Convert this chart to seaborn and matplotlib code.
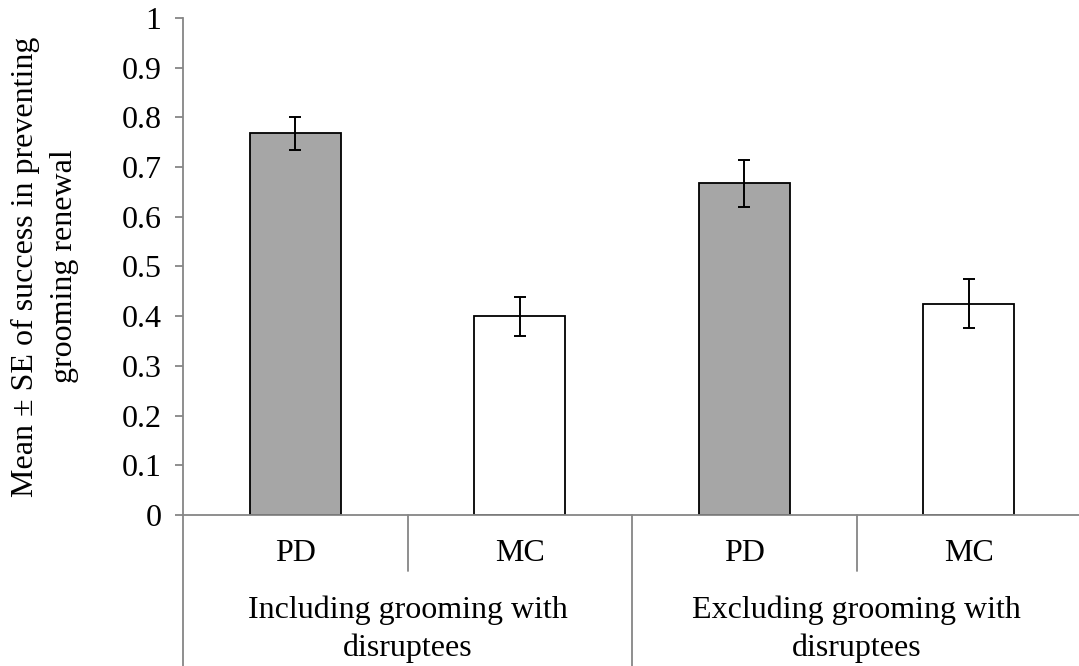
import matplotlib
matplotlib.use("Agg")
import matplotlib.pyplot as plt
import matplotlib.transforms as mtransforms
import seaborn as sns
import pandas as pd

# ---- data ----
conditions = ["PD", "MC", "PD", "MC"]
groups = ["Including grooming with\ndisruptees", "Excluding grooming with\ndisruptees"]
means = [0.768, 0.400, 0.667, 0.425]
se = [0.033, 0.039, 0.048, 0.049]
bar_colors = ["#A6A6A6", "#FFFFFF", "#A6A6A6", "#FFFFFF"]
yticks = [0, 0.1, 0.2, 0.3, 0.4, 0.5, 0.6, 0.7, 0.8, 0.9, 1.0]
ytick_labels = ["0", "0.1", "0.2", "0.3", "0.4", "0.5", "0.6", "0.7", "0.8", "0.9", "1"]
ylabel = "Mean \u00b1 SE of success in preventing\ngrooming renewal"

sns.set_style("white")
plt.rcParams["font.family"] = ["Liberation Serif", "DejaVu Serif"]
plt.rcParams["text.color"] = "black"
axis_gray = "#868686"
FS = 23

df = pd.DataFrame({"slot": [f"s{i}" for i in range(len(conditions))], "mean": means})

fig = plt.figure(figsize=(10.79, 6.66), dpi=100)
ax = fig.add_axes([0.1696, 0.2267, 0.8323, 0.7463])

sns.barplot(data=df, x="slot", y="mean", hue="slot", palette=bar_colors, legend=False,
            width=0.405, edgecolor="black", linewidth=1.3, errorbar=None, ax=ax, saturation=1)
ax.errorbar(range(len(means)), means, yerr=se, fmt="none", ecolor="black",
            elinewidth=1.4, capsize=4.4, capthick=1.4, zorder=5)

ax.set_xlim(-0.5, 3.5)
ax.set_ylim(0, 1)
ax.set_yticks(yticks)
ax.set_yticklabels(ytick_labels, fontsize=FS)
ax.set_xticks([])
ax.set_xlabel("")
ax.set_ylabel("")
for s in ["top", "right"]:
    ax.spines[s].set_visible(False)
for s in ["left", "bottom"]:
    ax.spines[s].set_color(axis_gray)
    ax.spines[s].set_linewidth(1.3)
ax.tick_params(axis="y", direction="out", length=6, width=1.3, color=axis_gray,
               labelcolor="black", pad=9.5, left=True)

# hierarchical category axis
trans = mtransforms.blended_transform_factory(ax.transData, ax.transAxes)
for x in [0.5, 2.5]:
    ax.plot([x, x], [0, -0.113], transform=trans, color=axis_gray, lw=1.3, clip_on=False)
for x in [-0.5, 1.5, 3.5]:
    ax.plot([x, x], [0, -0.31], transform=trans, color=axis_gray, lw=1.3, clip_on=False)
for i, c in enumerate(conditions):
    ax.text(i, -0.077, c, transform=trans, ha="center", va="center", fontsize=FS)
for gi, g in enumerate(groups):
    ax.text(gi * 2 + 0.5, -0.229, g, transform=trans, ha="center", va="center",
            fontsize=FS, linespacing=1.38)

fig.text(0.042, 0.60, ylabel, rotation=90, ha="center", va="center", fontsize=FS,
         linespacing=1.45)

fig.savefig("out.png", dpi=100)
